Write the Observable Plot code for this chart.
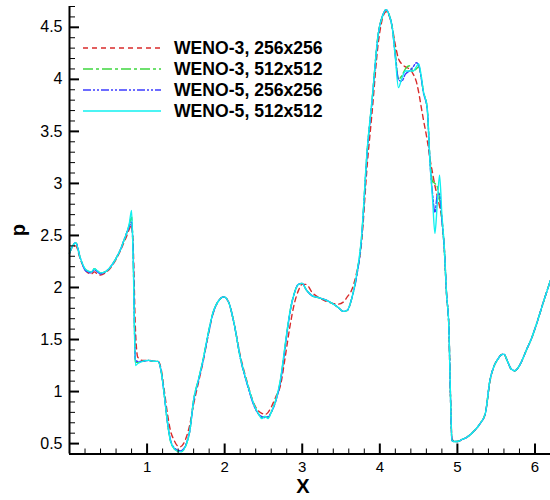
<!DOCTYPE html>
<html>
<head>
<meta charset="utf-8">
<script src="https://cdn.jsdelivr.net/npm/d3@7"></script>
<script src="https://cdn.jsdelivr.net/npm/@observablehq/plot@0.6"></script>
<style>
  html, body { margin: 0; padding: 0; background: #fff; }
  #wrap { position: relative; width: 550px; height: 500px; font-family: "Liberation Sans", Arial, sans-serif; }
  #legend { position: absolute; left: 83px; top: 38px; }
  .row { display: flex; align-items: center; height: 20.9px; }
  .row svg { display: block; width: 78px; height: 4px; margin-right: 13px; }
  .row span { font-weight: bold; font-size: 17.6px; color: #000; white-space: nowrap; }
</style>
</head>
<body>
<div id="wrap"></div>
<script>
// ---- data ----
const seriesNames = ["WENO-3, 256x256", "WENO-3, 512x512", "WENO-5, 256x256", "WENO-5, 512x512"];
const seriesColors = ["#d92b2b", "#3fd63f", "#3c3cff", "#10f0f0"];
const seriesDash = ["5,4", "10,3,3,3", "8,2,2,2,2,2", null];

const xs = [
  0.00, 0.04, 0.08, 0.14, 0.21, 0.28, 0.32, 0.36, 0.40, 0.46,
  0.52, 0.60, 0.66, 0.70, 0.74, 0.77, 0.80, 0.82, 0.85, 0.88,
  0.94, 1.02, 1.10, 1.14, 1.18, 1.22, 1.26, 1.30, 1.35, 1.39,
  1.43, 1.47, 1.51, 1.55, 1.60, 1.66, 1.72, 1.78, 1.85, 1.92,
  1.99, 2.05, 2.12, 2.20, 2.29, 2.38, 2.44, 2.48, 2.52, 2.56,
  2.60, 2.66, 2.72, 2.78, 2.84, 2.90, 2.95, 3.00, 3.05, 3.13,
  3.22, 3.30, 3.38, 3.46, 3.53, 3.58, 3.64, 3.70, 3.76, 3.84,
  3.90, 3.98, 4.04, 4.08, 4.12, 4.16, 4.20, 4.24, 4.28, 4.33,
  4.38, 4.43, 4.47, 4.50, 4.53, 4.56, 4.61, 4.65, 4.68, 4.71,
  4.74, 4.77, 4.80, 4.83, 4.86, 4.89, 4.91, 4.93, 4.96, 5.00,
  5.06, 5.12, 5.20, 5.29, 5.36, 5.42, 5.47, 5.52, 5.56, 5.60,
  5.64, 5.69, 5.74, 5.80, 5.89, 5.96, 6.02, 6.10, 6.20
];

const weno3_256 = [
  2.33, 2.39, 2.40, 2.27, 2.16, 2.13, 2.15, 2.13, 2.12, 2.14,
  2.18, 2.27, 2.36, 2.43, 2.50, 2.56, 2.60, 2.42, 1.60, 1.33,
  1.30, 1.30, 1.29, 1.29, 1.22, 1.02, 0.80, 0.63, 0.53, 0.48,
  0.47, 0.50, 0.57, 0.68, 0.88, 1.08, 1.28, 1.51, 1.75, 1.87,
  1.91, 1.86, 1.66, 1.35, 1.09, 0.88, 0.81, 0.79, 0.78, 0.80,
  0.85, 0.95, 1.06, 1.33, 1.62, 1.85, 1.97, 2.03, 2.03, 1.95,
  1.90, 1.87, 1.85, 1.84, 1.86, 1.91, 1.98, 2.14, 2.40, 3.20,
  3.68, 4.35, 4.60, 4.65, 4.61, 4.50, 4.33, 4.20, 4.15, 4.12,
  4.10, 4.05, 3.98, 3.88, 3.75, 3.62, 3.42, 3.22, 3.10, 2.98,
  2.88, 2.78, 2.66, 2.40, 1.94, 1.62, 0.98, 0.55, 0.52, 0.52,
  0.54, 0.56, 0.61, 0.69, 0.79, 1.10, 1.24, 1.31, 1.35, 1.36,
  1.30, 1.22, 1.20, 1.25, 1.40, 1.52, 1.65, 1.84, 2.07
];

const weno3_512 = [
  2.33, 2.40, 2.43, 2.28, 2.17, 2.15, 2.18, 2.16, 2.14, 2.15,
  2.19, 2.28, 2.37, 2.45, 2.53, 2.60, 2.68, 2.32, 1.28, 1.28,
  1.29, 1.30, 1.29, 1.29, 1.20, 0.98, 0.72, 0.53, 0.45, 0.43,
  0.42, 0.44, 0.50, 0.62, 0.92, 1.11, 1.30, 1.53, 1.76, 1.87,
  1.91, 1.86, 1.66, 1.33, 1.08, 0.87, 0.78, 0.75, 0.76, 0.75,
  0.80, 0.92, 1.11, 1.44, 1.76, 1.95, 2.03, 2.04, 1.98, 1.92,
  1.90, 1.88, 1.85, 1.81, 1.77, 1.78, 1.90, 2.11, 2.44, 3.34,
  3.80, 4.44, 4.62, 4.67, 4.62, 4.50, 4.25, 4.00, 4.03, 4.10,
  4.13, 4.08, 4.10, 4.12, 4.04, 3.89, 3.73, 3.20, 3.02, 3.00,
  2.97, 2.85, 2.65, 2.38, 1.94, 1.62, 0.98, 0.53, 0.52, 0.52,
  0.54, 0.56, 0.61, 0.69, 0.79, 1.11, 1.24, 1.31, 1.35, 1.36,
  1.30, 1.22, 1.20, 1.25, 1.40, 1.52, 1.65, 1.84, 2.07
];

const weno5_256 = [
  2.33, 2.40, 2.43, 2.28, 2.16, 2.14, 2.17, 2.15, 2.13, 2.15,
  2.19, 2.28, 2.37, 2.45, 2.53, 2.58, 2.63, 2.35, 1.30, 1.29,
  1.29, 1.30, 1.29, 1.29, 1.20, 0.98, 0.72, 0.54, 0.46, 0.44,
  0.43, 0.45, 0.51, 0.62, 0.91, 1.10, 1.29, 1.52, 1.75, 1.87,
  1.91, 1.86, 1.66, 1.33, 1.07, 0.86, 0.78, 0.76, 0.75, 0.76,
  0.80, 0.91, 1.10, 1.43, 1.75, 1.95, 2.03, 2.04, 1.98, 1.92,
  1.90, 1.88, 1.85, 1.81, 1.77, 1.78, 1.90, 2.10, 2.43, 3.33,
  3.79, 4.43, 4.62, 4.67, 4.62, 4.50, 4.22, 4.00, 3.98, 4.05,
  4.08, 4.12, 4.16, 4.14, 4.03, 3.88, 3.72, 3.16, 2.90, 2.72,
  2.88, 2.90, 2.65, 2.38, 1.94, 1.62, 0.98, 0.53, 0.52, 0.52,
  0.54, 0.56, 0.61, 0.69, 0.79, 1.11, 1.24, 1.31, 1.35, 1.36,
  1.30, 1.22, 1.20, 1.25, 1.40, 1.52, 1.65, 1.84, 2.07
];

const weno5_512 = [
  2.33, 2.40, 2.43, 2.28, 2.17, 2.15, 2.18, 2.16, 2.14, 2.15,
  2.19, 2.28, 2.37, 2.45, 2.53, 2.61, 2.74, 2.30, 1.25, 1.27,
  1.29, 1.30, 1.29, 1.29, 1.20, 0.98, 0.72, 0.53, 0.45, 0.43,
  0.42, 0.44, 0.50, 0.62, 0.92, 1.11, 1.30, 1.53, 1.76, 1.87,
  1.91, 1.86, 1.66, 1.33, 1.08, 0.87, 0.78, 0.74, 0.76, 0.74,
  0.80, 0.92, 1.12, 1.45, 1.76, 1.95, 2.03, 2.04, 1.98, 1.92,
  1.90, 1.88, 1.85, 1.81, 1.77, 1.78, 1.90, 2.12, 2.45, 3.35,
  3.80, 4.44, 4.62, 4.67, 4.62, 4.50, 4.21, 3.92, 4.00, 4.08,
  4.08, 4.08, 4.12, 4.15, 4.05, 3.89, 3.73, 3.16, 2.85, 2.52,
  2.80, 3.08, 2.70, 2.40, 1.94, 1.62, 0.98, 0.53, 0.52, 0.52,
  0.54, 0.56, 0.61, 0.69, 0.79, 1.11, 1.24, 1.31, 1.35, 1.36,
  1.30, 1.22, 1.20, 1.25, 1.40, 1.52, 1.65, 1.84, 2.07
];

const xTicks = [1, 2, 3, 4, 5, 6];
const yTicks = [0.5, 1, 1.5, 2, 2.5, 3, 3.5, 4, 4.5];
const xMinor = d3.range(1, 32).map(i => +(i * 0.2).toFixed(1)).filter(v => !xTicks.includes(v));
const yMinor = d3.range(4, 48).map(i => +(i * 0.1).toFixed(1)).filter(v => !yTicks.includes(v));
const xDomain = [0, 6.2];
const yDomain = [0.4, 4.7];

// ---- build ----
const allSeries = [weno3_256, weno3_512, weno5_256, weno5_512];
const lineMarks = allSeries.map((vals, k) =>
  Plot.line(xs.map((x, i) => ({x, p: vals[i]})), {
    x: "x", y: "p",
    stroke: seriesColors[k],
    strokeWidth: 1.4,
    strokeDasharray: seriesDash[k] || undefined,
    curve: "monotone-x"
  })
);

const chart = Plot.plot({
  width: 550,
  height: 500,
  marginLeft: 69,
  marginRight: 0,
  marginTop: 6,
  marginBottom: 46.5,
  x: {domain: xDomain},
  y: {domain: yDomain},
  style: {fontFamily: "'Liberation Sans', Arial, sans-serif", background: "white", color: "black"},
  marks: [
    ...lineMarks,
    Plot.axisX(xMinor, {tickSize: -5, tickFormat: () => "", label: null, strokeWidth: 1}),
    Plot.axisX(xTicks, {tickSize: -10, tickPadding: 17, tickFormat: d => String(d), fontSize: 15, label: null, strokeWidth: 2}),
    Plot.axisY(yMinor, {tickSize: -6, tickFormat: () => "", label: null, strokeWidth: 1}),
    Plot.axisY(yTicks, {tickSize: -10, tickPadding: 17, tickFormat: d => String(d), fontSize: 16, label: null, strokeWidth: 2}),
    Plot.ruleY([yDomain[0]], {strokeWidth: 2}),
    Plot.ruleX([xDomain[0]], {strokeWidth: 2}),
    Plot.text(["X"], {frameAnchor: "bottom", dx: -7, dy: 39, fontSize: 20, fontWeight: "bold"}),
    Plot.text(["p"], {frameAnchor: "left", dx: -51, dy: 6, rotate: -90, fontSize: 20, fontWeight: "bold"})
  ]
});

const wrap = document.getElementById("wrap");
wrap.appendChild(chart);

// legend overlay
const legend = document.createElement("div");
legend.id = "legend";
seriesNames.forEach((name, k) => {
  const row = document.createElement("div");
  row.className = "row";
  const dash = seriesDash[k] ? ` stroke-dasharray="${seriesDash[k]}"` : "";
  row.innerHTML = `<svg viewBox="0 0 78 4"><line x1="0" y1="2" x2="78" y2="2" stroke="${seriesColors[k]}" stroke-width="1.6"${dash}/></svg><span>${name}</span>`;
  legend.appendChild(row);
});
wrap.appendChild(legend);
</script>
</body>
</html>
